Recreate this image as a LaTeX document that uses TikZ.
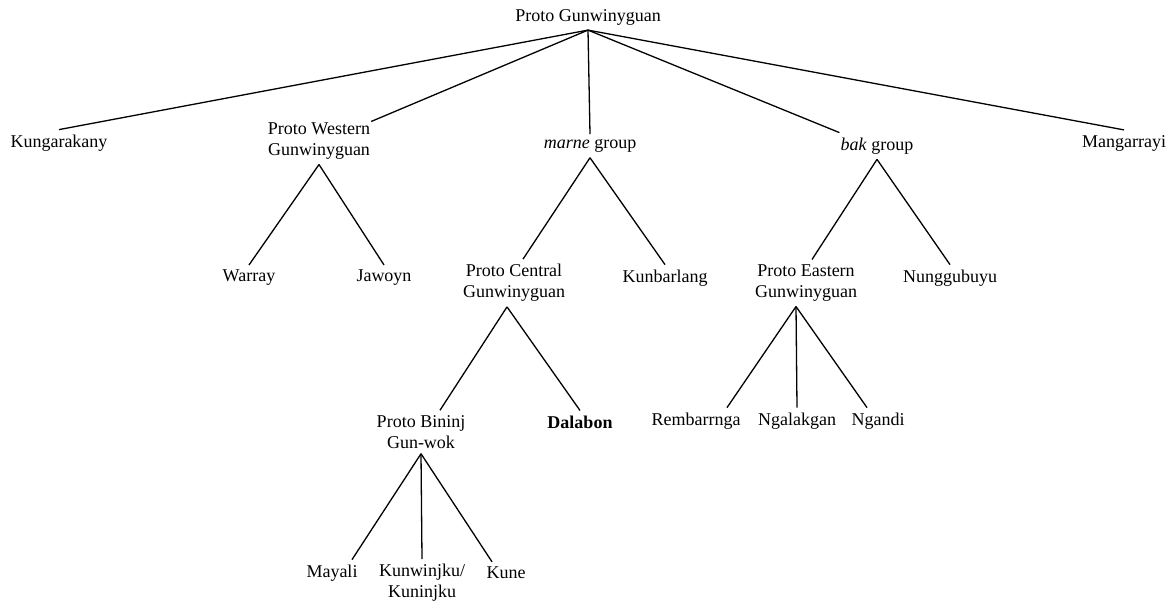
\documentclass[tikz,border=0pt]{standalone}
\usepackage{fontspec}
\setmainfont{Liberation Serif}
\usepackage{tikz}

\begin{document}
\begin{tikzpicture}[
    x=1pt, y=-1pt,
    font=\fontsize{18}{21}\selectfont,
    lang/.style={inner xsep=1pt, inner ysep=5pt, align=center},
    branch/.style={line width=1.3pt}
]
\useasboundingbox (0,0) rectangle (1169,607);

% Root
\node[lang] (root) at (588,17) {Proto Gunwinyguan};

% First level
\node[lang] (kung) at (59,143) {Kungarakany};
\node[lang] (pwg) at (319,141) {Proto Western\\Gunwinyguan};
\node[lang] (marne) at (590,146) {\textit{marne} group};
\node[lang] (bak) at (877,146) {\textit{bak} group};
\node[lang] (manga) at (1124,143) {Mangarrayi};

% Second level
\node[lang] (warray) at (249,278) {Warray};
\node[lang] (jawoyn) at (384,278) {Jawoyn};
\node[lang] (pcg) at (514,283) {Proto Central\\Gunwinyguan};
\node[lang] (kunbar) at (665,278) {Kunbarlang};
\node[lang] (peg) at (806,283) {Proto Eastern\\Gunwinyguan};
\node[lang] (nung) at (950,278) {Nunggubuyu};

% Third level
\node[lang] (pbg) at (421,432) {Proto Bininj\\Gun-wok};
\node[lang] (dalabon) at (580,422) {\textbf{Dalabon}};
\node[lang] (remb) at (696,421) {Rembarrnga};
\node[lang] (ngalak) at (797,421) {Ngalakgan};
\node[lang] (ngandi) at (878,421) {Ngandi};

% Fourth level
\node[lang] (mayali) at (332,573) {Mayali};
\node[lang] (kunw) at (422,583) {Kunwinjku/\\Kuninjku};
\node[lang] (kune) at (506,573) {Kune};

% Root branches
\draw[branch] (root.south) -- (kung.north);
\draw[branch] (root.south) -- ([yshift=-4pt]pwg.north east);
\draw[branch] (root.south) -- (marne.north);
\draw[branch] (root.south) -- (bak.north west);
\draw[branch] (root.south) -- (manga.north);

% Western, marne and bak
\draw[branch] (pwg.south) -- (warray.north);
\draw[branch] (pwg.south) -- (jawoyn.north);
\draw[branch] (marne.south) -- ([xshift=9pt]pcg.north);
\draw[branch] (marne.south) -- (kunbar.north);
\draw[branch] (bak.south) -- ([xshift=6pt]peg.north);
\draw[branch] (bak.south) -- (nung.north);

% Central and Eastern
\draw[branch] ([xshift=-7pt]pcg.south) -- ([xshift=19pt]pbg.north);
\draw[branch] ([xshift=-7pt]pcg.south) -- (dalabon.north);
\draw[branch] ([xshift=-10pt]peg.south) -- ([xshift=31pt]remb.north);
\draw[branch] ([xshift=-10pt]peg.south) -- (ngalak.north);
\draw[branch] ([xshift=-10pt]peg.south) -- ([xshift=-11pt]ngandi.north);

% Bininj Gun-wok
\draw[branch] (pbg.south) -- ([xshift=20pt]mayali.north);
\draw[branch] (pbg.south) -- (kunw.north);
\draw[branch] (pbg.south) -- ([xshift=-14pt]kune.north);

\end{tikzpicture}
\end{document}
